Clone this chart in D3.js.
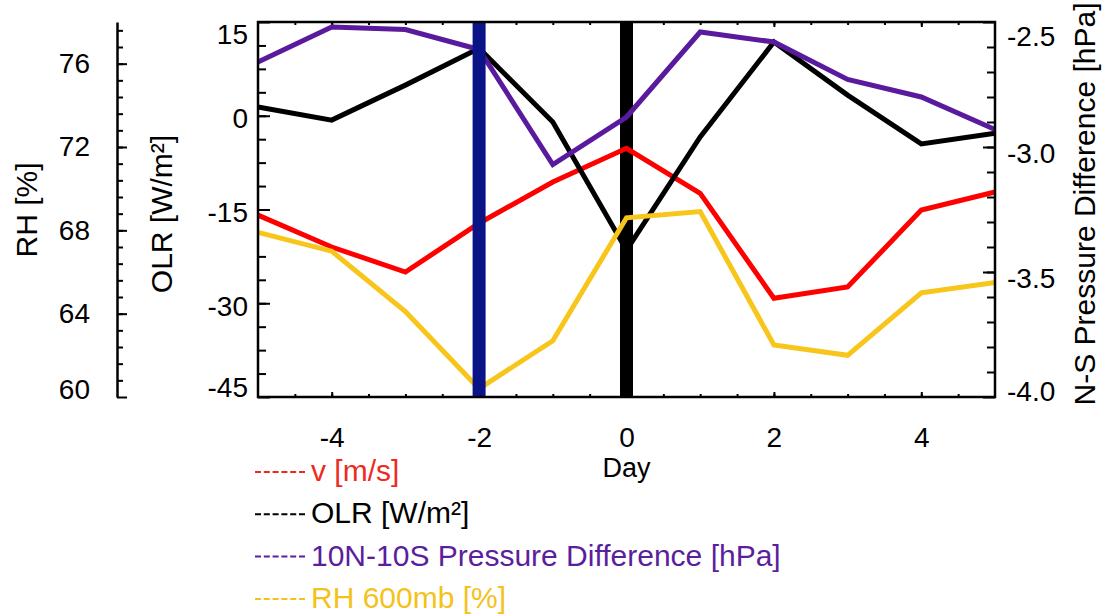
<!DOCTYPE html>
<html>
<head>
<meta charset="utf-8">
<script src="https://cdn.jsdelivr.net/npm/d3@7"></script>
<style>
    body { margin: 0; background: #fff; }
    text { font-family: "Liberation Sans", Arial, Helvetica, sans-serif; }
</style>
</head>
<body>
<div id="chart"></div>
<script>
// composite days, -5 .. +5
const days = [-5, -4, -3, -2, -1, 0, 1, 2, 3, 4, 5];
// v has no axis of its own, values read against the OLR axis
const vWind = [-15.9, -21.0, -25.0, -17.2, -10.6, -5.2, -12.4, -29.2, -27.4, -15.1, -12.2];
const olr = [1.4, -0.7, 4.9, 10.8, -1.0, -21.5, -3.4, 11.8, 3.3, -4.5, -2.8];
const pressDiff = [-2.66, -2.52, -2.53, -2.61, -3.07, -2.88, -2.54, -2.58, -2.73, -2.80, -2.93];
const rh600 = [67.9, 67.0, 64.1, 60.4, 62.7, 68.6, 68.9, 62.5, 62.0, 65.0, 65.5];

const dayTicks = [-4, -2, 0, 2, 4];
const olrTicks = [15, 0, -15, -30, -45];
const pressTicks = [-2.5, -3.0, -3.5, -4.0];
const rhTicks = [60, 64, 68, 72, 76];
const markerDays = [0, -2];
const markerColors = ["#000000", "#0b1486"];

const legendLabels = ["v [m/s]", "OLR [W/m\u00b2]", "10N-10S Pressure Difference [hPa]", "RH 600mb [%]"];
const legendColors = ["#ee2a1e", "#000000", "#5b1e9c", "#f4c21c"];
const lineColors = ["#ff0000", "#000000", "#5a1a9e", "#f8c51b"];

const margin = {top: 22, right: 111, bottom: 218, left: 258},
    width = 1106 - margin.left - margin.right,
    height = 615 - margin.top - margin.bottom;

const root = d3.select("#chart")
    .append("svg")
    .attr("width", 1106)
    .attr("height", 615);

const svg = root.append("g")
    .attr("transform", `translate(${margin.left},${margin.top})`);

const x = d3.scaleLinear().domain([-5, 5]).range([0, width]);
const yOlr = d3.scaleLinear().domain([-45, 15]).range([height, 0]);
const yPress = d3.scaleLinear().domain([-4.0, -2.5]).range([height, 0]);
const yRh = d3.scaleLinear().domain([60, 78]).range([height, 0]);

const fmt1 = d => d.toFixed(1);
const fmt0 = d => String(d);

function styleAxis(g, fontSize) {
    g.select(".domain").remove();
    g.selectAll(".tick line").attr("stroke", "#000").attr("stroke-width", 2);
    g.selectAll(".tick text")
        .attr("fill", "#000")
        .style("font-size", fontSize + "px");
}

// minor ticks
svg.append("g")
    .attr("transform", `translate(0,${height})`)
    .call(d3.axisBottom(x).tickValues(d3.range(-4.5, 5, 0.5)).tickSize(-3).tickFormat(""))
    .call(g => styleAxis(g, 28));
svg.append("g")
    .call(d3.axisTop(x).tickValues(d3.range(-4.5, 5, 0.5)).tickSize(-3).tickFormat(""))
    .call(g => styleAxis(g, 28));
svg.append("g")
    .call(d3.axisLeft(yOlr).tickValues(d3.range(-41.25, 15, 3.75)).tickSize(-8).tickFormat(""))
    .call(g => styleAxis(g, 28));
svg.append("g")
    .attr("transform", `translate(${width},0)`)
    .call(d3.axisRight(yPress).tickValues(d3.range(-3.9, -2.55, 0.1)).tickSize(-8).tickFormat(""))
    .call(g => styleAxis(g, 28));

// major ticks with labels
svg.append("g")
    .attr("transform", `translate(0,${height})`)
    .call(d3.axisBottom(x).tickValues(dayTicks).tickSize(-5).tickPadding(30).tickFormat(fmt0))
    .call(g => styleAxis(g, 28));
svg.append("g")
    .call(d3.axisTop(x).tickValues(dayTicks).tickSize(-5).tickFormat(""))
    .call(g => styleAxis(g, 28));

svg.append("g")
    .call(d3.axisLeft(yOlr).tickValues(olrTicks).tickSize(-12).tickPadding(10).tickFormat(fmt0))
    .call(g => styleAxis(g, 28))
    .call(g => g.selectAll(".tick text")
        .attr("transform", d => `translate(0,${d === 15 ? 13 : d === -45 ? -9 : 3})`));

svg.append("g")
    .attr("transform", `translate(${width},0)`)
    .call(d3.axisRight(yPress).tickValues(pressTicks).tickSize(-12).tickPadding(12).tickFormat(fmt1))
    .call(g => styleAxis(g, 28))
    .call(g => g.selectAll(".tick text")
        .attr("transform", d => `translate(0,${d === -2.5 ? 15 : d === -4.0 ? -5 : 7})`));

// detached RH axis on the far left
const rhAxis = root.append("g")
    .attr("transform", `translate(117,${margin.top})`);
rhAxis.append("g")
    .call(d3.axisLeft(yRh).tickValues(d3.range(60.8, 78, 0.8)).tickSize(-6).tickFormat(""))
    .call(g => styleAxis(g, 28));
rhAxis.append("g")
    .call(d3.axisLeft(yRh).tickValues(rhTicks).tickSize(-10).tickPadding(27).tickSizeOuter(0).tickFormat(fmt0))
    .call(g => g.select(".domain").attr("stroke", "#000").attr("stroke-width", 2.5))
    .call(g => g.selectAll(".tick line").attr("stroke", "#000").attr("stroke-width", 2))
    .call(g => g.selectAll(".tick text").attr("fill", "#000").style("font-size", "28px")
        .attr("transform", d => `translate(0,${d === 60 ? -7 : 0})`));

// axis titles
root.append("text")
    .attr("transform", "translate(26,210) rotate(-90)")
    .attr("text-anchor", "middle").attr("dy", "0.35em")
    .style("font-size", "30px")
    .text("RH [%]");
root.append("text")
    .attr("transform", "translate(161,214) rotate(-90)")
    .attr("text-anchor", "middle").attr("dy", "0.35em")
    .style("font-size", "30px")
    .text("OLR [W/m\u00b2]");
root.append("text")
    .attr("transform", "translate(1084,204) rotate(-90)")
    .attr("text-anchor", "middle").attr("dy", "0.35em")
    .style("font-size", "30px")
    .text("N-S Pressure Difference [hPa]");
svg.append("text")
    .attr("x", x(0)).attr("y", 455)
    .attr("text-anchor", "middle")
    .style("font-size", "27px")
    .text("Day");

// black marker bar sits under the curves
svg.append("line")
    .attr("x1", x(markerDays[0])).attr("x2", x(markerDays[0]))
    .attr("y1", 0).attr("y2", height)
    .attr("stroke", markerColors[0]).attr("stroke-width", 13);

const series = [
    {values: vWind, y: yOlr},
    {values: olr, y: yOlr},
    {values: pressDiff, y: yPress},
    {values: rh600, y: yRh}
];

series.forEach((s, i) => {
    const pts = days.map((d, j) => ({day: d, value: s.values[j]}));
    const line = d3.line()
        .x(d => x(d.day))
        .y(d => s.y(d.value));
    svg.append("path")
        .datum(pts)
        .attr("fill", "none")
        .attr("stroke", lineColors[i])
        .attr("stroke-width", 5)
        .attr("stroke-linejoin", "miter")
        .attr("d", line);
});

// blue marker bar over the curves
svg.append("line")
    .attr("x1", x(markerDays[1])).attr("x2", x(markerDays[1]))
    .attr("y1", 0).attr("y2", height)
    .attr("stroke", markerColors[1]).attr("stroke-width", 13);

// plot frame
svg.append("rect")
    .attr("width", width).attr("height", height)
    .attr("fill", "none")
    .attr("stroke", "#000")
    .attr("stroke-width", 2.5);

// legend
const legend = root.append("g")
    .attr("transform", "translate(255,0)");
legendLabels.forEach((label, i) => {
    const yBase = 481 + i * 42.3;
    legend.append("line")
        .attr("x1", 0).attr("x2", 50)
        .attr("y1", yBase - 9).attr("y2", yBase - 9)
        .attr("stroke", legendColors[i])
        .attr("stroke-width", 2)
        .attr("stroke-dasharray", "6,2.8");
    legend.append("text")
        .attr("x", 56).attr("y", yBase)
        .attr("fill", legendColors[i])
        .style("font-size", "30px")
        .text(label);
});
</script>
</body>
</html>
